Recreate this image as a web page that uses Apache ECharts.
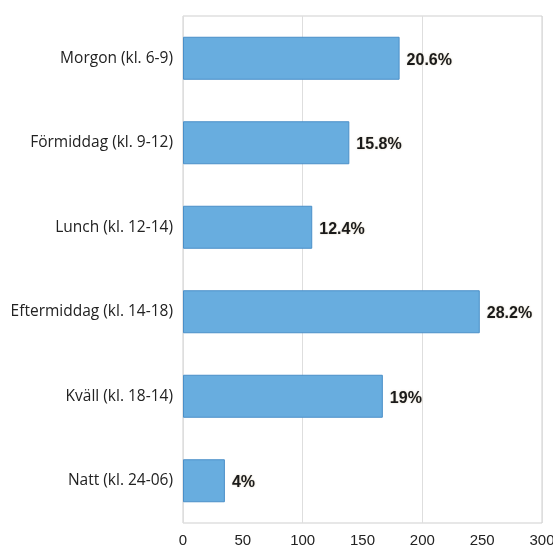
<!DOCTYPE html>
<html>
<head>
<meta charset="utf-8">
<script src="https://cdn.jsdelivr.net/npm/echarts@6/dist/echarts.min.js"></script>
<style>
html,body{margin:0;padding:0;background:#fff;}
#c{width:553px;height:550px;}
</style>
</head>
<body>
<div id="c"></div>
<script>
const categories = ['Morgon (kl. 6-9)', 'Förmiddag (kl. 9-12)', 'Lunch (kl. 12-14)', 'Eftermiddag (kl. 14-18)', 'Kväll (kl. 18-14)', 'Natt (kl. 24-06)'];
const values = [181, 139, 108, 248, 167, 35];
const percentLabels = ['20.6%', '15.8%', '12.4%', '28.2%', '19%', '4%'];
const xTicks = [0, 50, 100, 150, 200, 250, 300];

const chart = echarts.init(document.getElementById('c'), null, {renderer: 'canvas'});
chart.setOption({
  animation: false,
  backgroundColor: '#fff',
  grid: {
    left: 183, right: 11, top: 16, bottom: 27,
    show: true, borderColor: '#cfcfcf', borderWidth: 1,
    containLabel: false,
    outerBoundsMode: 'none'
  },
  xAxis: [
    {
      type: 'value', min: xTicks[0], max: xTicks[xTicks.length - 1], interval: 50,
      axisLine: {show: false}, axisTick: {show: false}, splitLine: {show: false},
      axisLabel: {color: '#222', fontSize: 15, margin: 10, fontFamily: 'Liberation Sans, Arial, sans-serif', hideOverlap: false}
    },
    {
      type: 'value', min: 0, max: 300, interval: 100, position: 'bottom',
      axisLine: {show: false}, axisTick: {show: false}, axisLabel: {show: false},
      splitLine: {show: true, lineStyle: {color: '#dedede', width: 1}}
    }
  ],
  yAxis: {
    type: 'category', data: categories, inverse: true,
    axisLine: {show: false}, axisTick: {show: false}, splitLine: {show: false},
    axisLabel: {color: '#222', fontSize: 15.5, margin: 10, fontFamily: 'Open Sans, Lato, sans-serif'}
  },
  series: [{
    type: 'bar',
    xAxisIndex: 0,
    data: values,
    barWidth: 43,
    itemStyle: {color: '#68addf', borderColor: '#4a8fc8', borderWidth: 1},
    label: {
      show: true, position: 'right', distance: 7, offset: [0, 2],
      formatter: p => percentLabels[p.dataIndex],
      color: '#1a1a1a', fontSize: 16, fontWeight: 'bold',
      fontFamily: 'Liberation Sans, Arial, sans-serif',
      textShadowColor: 'rgba(150,120,60,0.35)', textShadowBlur: 2
    }
  }]
});
</script>
</body>
</html>
